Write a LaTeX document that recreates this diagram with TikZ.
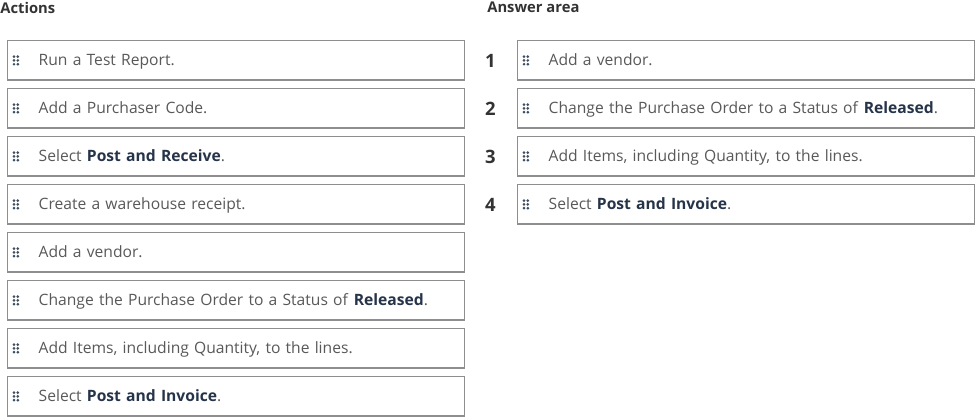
\documentclass[tikz,border=0pt]{standalone}
\usepackage{fontspec}
\setmainfont{Open Sans}
\usepackage{xcolor}
\usetikzlibrary{positioning}
\definecolor{framegray}{HTML}{8E8E8E}
\definecolor{textgray}{HTML}{595959}
\definecolor{boldnavy}{HTML}{26344A}
\definecolor{gripblue}{HTML}{3E4D60}
\newcommand{\kw}[1]{\textbf{\color{boldnavy}#1}}

\begin{document}
\begin{tikzpicture}[
  x=0.02cm, y=-0.02cm,
  card/.style={draw=framegray, line width=0.8pt, fill=white, minimum width=9.14cm, minimum height=0.79cm,
    text width=7.9cm, inner xsep=0.62cm, align=left, text=textgray, text height=1.6ex, text depth=0.5ex,
    font=\fontsize{8.9}{10}\selectfont},
  head/.style={anchor=north west, inner sep=0pt, text=black!80, font=\fontsize{8.4}{10}\selectfont\bfseries},
  num/.style={inner sep=0pt, text=black!80, font=\fontsize{10.5}{12}\selectfont\bfseries}
]
\useasboundingbox (0,0) rectangle (975,418);

% headings
\node[head] (acts) at (0,2) {Actions};
\node[head] (answ) at (487,2) {Answer area};

% actions
\node[card, anchor=north west] (a1) at (7,40) {Run a Test Report.};
\node[card, below=0.142cm of a1] (a2) {Add a Purchaser Code.};
\node[card, below=0.142cm of a2] (a3) {Select \kw{Post and Receive}.};
\node[card, below=0.142cm of a3] (a4) {Create a warehouse receipt.};
\node[card, below=0.142cm of a4] (a5) {Add a vendor.};
\node[card, below=0.142cm of a5] (a6) {Change the Purchase Order to a Status of \kw{Released}.};
\node[card, below=0.142cm of a6] (a7) {Add Items, including Quantity, to the lines.};
\node[card, below=0.142cm of a7] (a8) {Select \kw{Post and Invoice}.};

% answer area
\node[card, anchor=north west] (r1) at (517,40) {Add a vendor.};
\node[card, below=0.142cm of r1] (r2) {Change the Purchase Order to a Status of \kw{Released}.};
\node[card, below=0.142cm of r2] (r3) {Add Items, including Quantity, to the lines.};
\node[card, below=0.142cm of r3] (r4) {Select \kw{Post and Invoice}.};

\foreach \i in {1,...,4}
  \node[num, left=0.42cm of r\i] (n\i) {\i};

% drag handles
\foreach \b in {a1,a2,a3,a4,a5,a6,a7,a8,r1,r2,r3,r4}
  \foreach \dx in {0,3.8}
    \foreach \dy in {-3.8,0,3.8}
      \fill[gripblue, shift={(\b.west)}] (7+\dx,\dy) circle (0.85pt);

\end{tikzpicture}
\end{document}
